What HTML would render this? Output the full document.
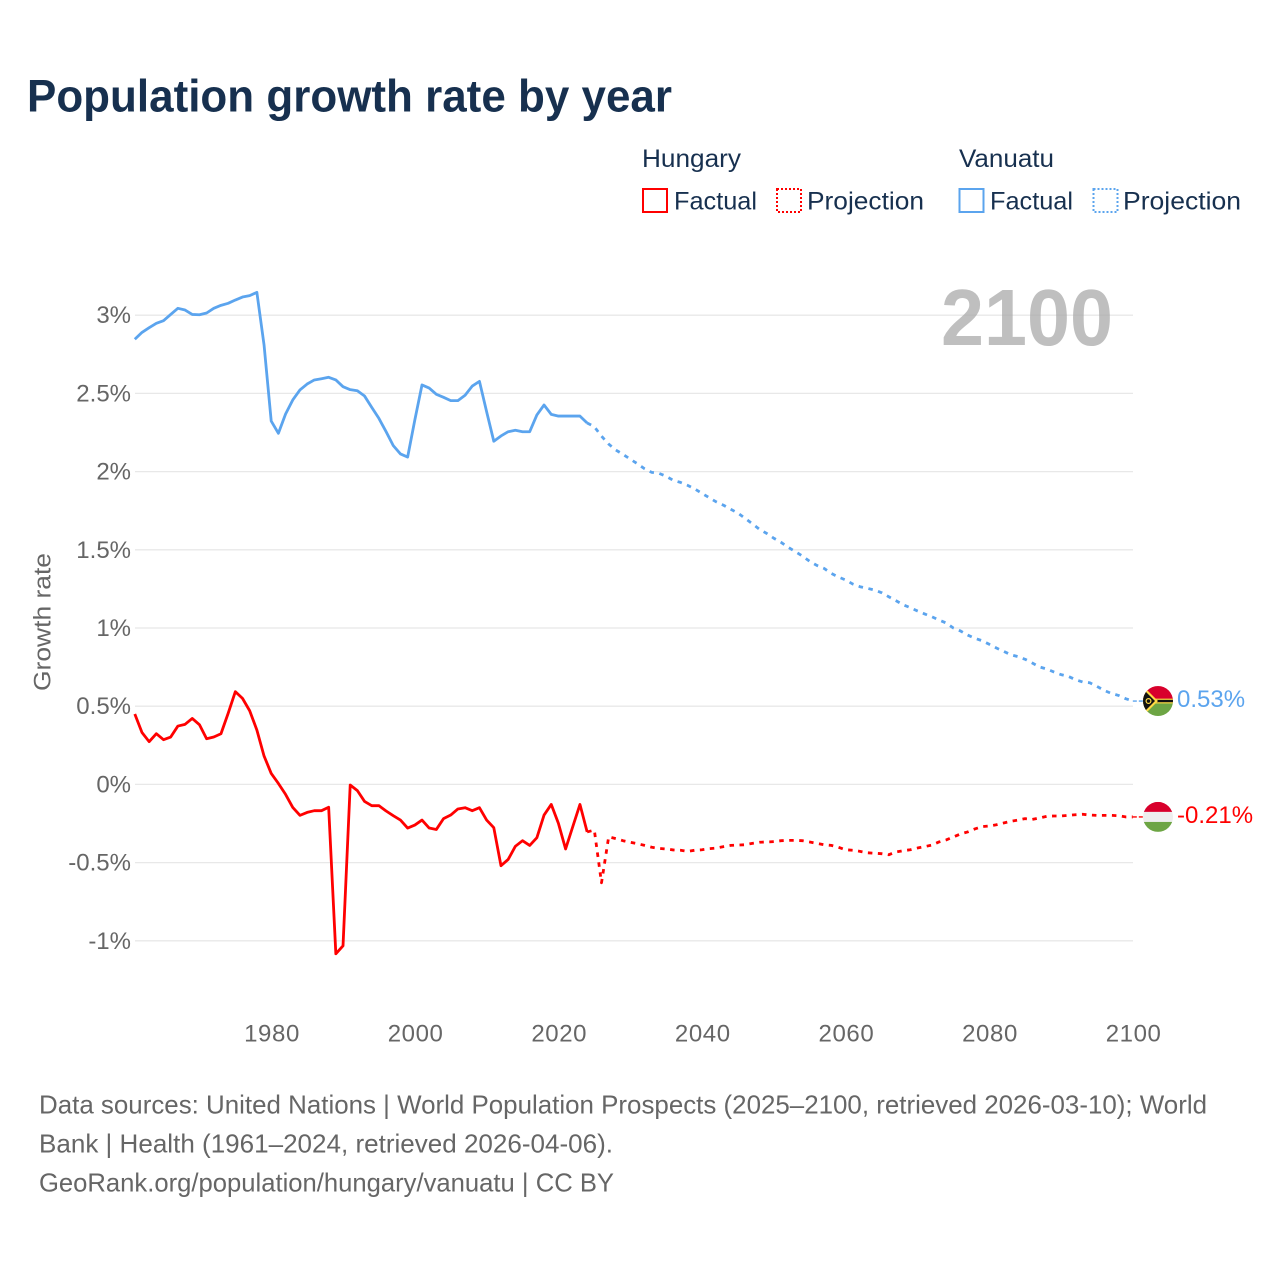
<!DOCTYPE html>
<html lang="en">
<head>
<meta charset="utf-8">
<title>Population growth rate by year</title>
<style>
html,body{margin:0;padding:0;background:#fff;}
svg{display:block;font-family:"Liberation Sans",sans-serif;}
</style>
</head>
<body>
<svg id="chart" xmlns="http://www.w3.org/2000/svg" width="1280" height="1280" viewBox="0 0 1280 1280">
  <rect x="0" y="0" width="1280" height="1280" fill="#ffffff"/>
  <text x="27" y="111.5" font-size="45" font-weight="700" fill="#17304f" textLength="645" lengthAdjust="spacingAndGlyphs">Population growth rate by year</text>

  <g>
    <text x="642" y="167" font-size="25" fill="#17304f" textLength="99" lengthAdjust="spacingAndGlyphs">Hungary</text>
    <text x="959" y="167" font-size="25" fill="#17304f" textLength="95" lengthAdjust="spacingAndGlyphs">Vanuatu</text>
    <rect x="643" y="189" width="24" height="23" fill="none" stroke="#ff0000" stroke-width="2"/>
    <text x="674" y="209.5" font-size="25" fill="#17304f" textLength="83" lengthAdjust="spacingAndGlyphs">Factual</text>
    <rect x="777" y="189" width="24" height="23" fill="none" stroke="#ff0000" stroke-width="2" stroke-dasharray="2 2"/>
    <text x="807" y="209.5" font-size="25" fill="#17304f" textLength="117" lengthAdjust="spacingAndGlyphs">Projection</text>
    <rect x="959.5" y="189" width="24" height="23" fill="none" stroke="#5ba4ee" stroke-width="2"/>
    <text x="990" y="209.5" font-size="25" fill="#17304f" textLength="83" lengthAdjust="spacingAndGlyphs">Factual</text>
    <rect x="1093.5" y="189" width="24" height="23" fill="none" stroke="#5ba4ee" stroke-width="2" stroke-dasharray="2 2"/>
    <text x="1123" y="209.5" font-size="25" fill="#17304f" textLength="118" lengthAdjust="spacingAndGlyphs">Projection</text>
  </g>

  <text transform="translate(50.5,622) rotate(-90)" text-anchor="middle" font-size="24" fill="#666666" textLength="138" lengthAdjust="spacingAndGlyphs">Growth rate</text>
  <g id="grid"></g>
  <text x="941" y="345" font-size="80" font-weight="700" fill="#a6a6a6" fill-opacity="0.72" textLength="172" lengthAdjust="spacingAndGlyphs">2100</text>
  <g id="series"></g>
  <g id="ends"></g>

  <g>
    <text x="39" y="1113.5" font-size="26" fill="#666666" textLength="1168" lengthAdjust="spacingAndGlyphs">Data sources: United Nations | World Population Prospects (2025–2100, retrieved 2026-03-10); World</text>
    <text x="39" y="1152.5" font-size="26" fill="#666666" textLength="574" lengthAdjust="spacingAndGlyphs">Bank | Health (1961–2024, retrieved 2026-04-06).</text>
    <text x="39" y="1191.5" font-size="26" fill="#666666" textLength="575" lengthAdjust="spacingAndGlyphs">GeoRank.org/population/hungary/vanuatu | CC BY</text>
  </g>

  <defs>
    <clipPath id="flag-clip"><circle cx="0" cy="0" r="15"/></clipPath>
  </defs>
</svg>

<script>
const yTickValues = [3, 2.5, 2, 1.5, 1, 0.5, 0, -0.5, -1];
const yTickLabels = ["3%", "2.5%", "2%", "1.5%", "1%", "0.5%", "0%", "-0.5%", "-1%"];
const xTickYears = [1980, 2000, 2020, 2040, 2060, 2080, 2100];
const factualStartYear = 1961;
const projectionStartYear = 2024;

const vanuatuFactual = [2.846,2.89,2.92,2.948,2.965,3.005,3.044,3.033,3.005,3.003,3.014,3.044,3.063,3.076,3.097,3.116,3.125,3.146,2.81,2.323,2.245,2.368,2.458,2.522,2.56,2.586,2.594,2.603,2.586,2.543,2.524,2.517,2.483,2.411,2.34,2.255,2.166,2.113,2.093,2.33,2.554,2.534,2.494,2.475,2.454,2.454,2.488,2.547,2.577,2.383,2.194,2.228,2.255,2.264,2.255,2.255,2.362,2.426,2.366,2.355,2.355,2.355,2.355,2.311];
const vanuatuProjection = [2.311,2.287,2.227,2.176,2.138,2.11,2.08,2.05,2.018,1.995,1.989,1.97,1.944,1.931,1.912,1.889,1.861,1.833,1.806,1.785,1.759,1.735,1.701,1.667,1.631,1.605,1.574,1.548,1.516,1.488,1.46,1.426,1.4,1.381,1.349,1.326,1.307,1.281,1.264,1.254,1.243,1.226,1.2,1.175,1.149,1.13,1.109,1.09,1.072,1.051,1.032,1.0,0.981,0.955,0.934,0.919,0.896,0.872,0.851,0.829,0.817,0.8,0.776,0.751,0.738,0.719,0.702,0.691,0.67,0.655,0.65,0.627,0.601,0.582,0.569,0.548,0.533];
const hungaryFactual = [0.45,0.332,0.273,0.324,0.286,0.303,0.373,0.384,0.422,0.382,0.292,0.303,0.324,0.454,0.593,0.55,0.471,0.348,0.182,0.07,0.006,-0.064,-0.147,-0.198,-0.179,-0.168,-0.168,-0.146,-1.083,-1.032,-0.004,-0.04,-0.109,-0.136,-0.136,-0.17,-0.2,-0.228,-0.279,-0.26,-0.228,-0.279,-0.288,-0.219,-0.196,-0.157,-0.149,-0.168,-0.149,-0.228,-0.277,-0.52,-0.48,-0.396,-0.36,-0.39,-0.341,-0.196,-0.128,-0.249,-0.413,-0.27,-0.128,-0.304];
const hungaryProjection = [-0.304,-0.292,-0.629,-0.335,-0.347,-0.36,-0.37,-0.379,-0.39,-0.402,-0.409,-0.413,-0.419,-0.421,-0.428,-0.421,-0.418,-0.411,-0.407,-0.398,-0.39,-0.388,-0.386,-0.377,-0.37,-0.368,-0.366,-0.36,-0.358,-0.358,-0.36,-0.368,-0.377,-0.386,-0.39,-0.402,-0.418,-0.421,-0.428,-0.437,-0.44,-0.443,-0.45,-0.432,-0.424,-0.418,-0.407,-0.398,-0.388,-0.368,-0.355,-0.336,-0.317,-0.304,-0.285,-0.27,-0.266,-0.258,-0.247,-0.236,-0.228,-0.219,-0.224,-0.215,-0.204,-0.202,-0.202,-0.198,-0.194,-0.191,-0.196,-0.198,-0.198,-0.198,-0.2,-0.208,-0.208];

const NS = "http://www.w3.org/2000/svg";
const RED = "#ff0000";
const BLUE = "#5ba4ee";
const xScale = function (year) { return 134.8 + (year - 1961) * 7.18; };
const yScale = function (value) { return 784.4 - value * 156.4; };

const gridGroup = document.getElementById("grid");
const seriesGroup = document.getElementById("series");
const endsGroup = document.getElementById("ends");

function pathFrom(values, startYear) {
  return values.map(function (v, i) {
    return (i ? "L" : "M") + xScale(startYear + i).toFixed(2) + " " + yScale(v).toFixed(2);
  }).join(" ");
}

yTickValues.forEach(function (v, i) {
  const line = document.createElementNS(NS, "line");
  
  
  line.setAttribute("x1", 135);
  line.setAttribute("x2", 1133);
  line.setAttribute("y1", yScale(v));
  line.setAttribute("y2", yScale(v));
  line.setAttribute("stroke", "#e8e8e8");
  line.setAttribute("stroke-width", "1.3");
  gridGroup.appendChild(line);

  const label = document.createElementNS(NS, "text");
  
  
  label.setAttribute("x", 131);
  label.setAttribute("y", yScale(v) + 8);
  label.setAttribute("text-anchor", "end");
  label.setAttribute("font-size", "24");
  label.setAttribute("fill", "#666666");
  label.textContent = yTickLabels[i];
  gridGroup.appendChild(label);
});

xTickYears.forEach(function (year) {
  const label = document.createElementNS(NS, "text");
  
  
  label.setAttribute("x", xScale(year) + 0.8);
  label.setAttribute("y", 1041.5);
  label.setAttribute("text-anchor", "middle");
  label.setAttribute("font-size", "24");
  label.setAttribute("fill", "#666666");
  label.setAttribute("letter-spacing", "0.6");
  label.textContent = String(year);
  gridGroup.appendChild(label);
});

function addProjection(values, color) {
  const path = document.createElementNS(NS, "path");
  
  
  path.setAttribute("d", pathFrom(values, projectionStartYear));
  path.setAttribute("fill", "none");
  path.setAttribute("stroke", color);
  path.setAttribute("stroke-width", "2.8");
  path.setAttribute("stroke-dasharray", "4.5 5.5");
  path.setAttribute("stroke-linejoin", "round");
  seriesGroup.appendChild(path);
}

function addFactual(values, color) {
  const path = document.createElementNS(NS, "path");
  
  
  path.setAttribute("d", pathFrom(values, factualStartYear));
  path.setAttribute("fill", "none");
  path.setAttribute("stroke", color);
  path.setAttribute("stroke-width", "2.8");
  path.setAttribute("stroke-linejoin", "round");
  seriesGroup.appendChild(path);
}

addProjection(vanuatuProjection, BLUE);
addProjection(hungaryProjection, RED);
addFactual(vanuatuFactual, BLUE);
addFactual(hungaryFactual, RED);

function addShape(parent, tag, attrs) {
  const el = document.createElementNS(NS, tag);
  Object.keys(attrs).forEach(function (k) { el.setAttribute(k, attrs[k]); });
  parent.appendChild(el);
  return el;
}

function addEnd(values, color, isVanuatu) {
  const last = values[values.length - 1];
  const y = yScale(last);

  const connector = document.createElementNS(NS, "line");
  
  
  connector.setAttribute("x1", xScale(2100));
  connector.setAttribute("x2", 1143);
  connector.setAttribute("y1", y);
  connector.setAttribute("y2", y);
  connector.setAttribute("stroke", color);
  connector.setAttribute("stroke-width", "1.3");
  connector.setAttribute("stroke-dasharray", "4 2");
  endsGroup.appendChild(connector);

  const flag = document.createElementNS(NS, "g");
  
  
  flag.setAttribute("transform", "translate(1158 " + y.toFixed(2) + ")");
  endsGroup.appendChild(flag);

  const inner = document.createElementNS(NS, "g");
  inner.setAttribute("clip-path", "url(#flag-clip)");
  flag.appendChild(inner);

  if (isVanuatu) {
    addShape(inner, "rect", { x: -15, y: -15, width: 30, height: 15, fill: "#d8002c" });
    addShape(inner, "rect", { x: -15, y: 0, width: 30, height: 15, fill: "#6da544" });
    addShape(inner, "rect", { x: -15, y: -2.4, width: 30, height: 4.8, fill: "#ffda44" });
    addShape(inner, "rect", { x: -15, y: -1.2, width: 30, height: 2.4, fill: "#111111" });
    addShape(inner, "path", { d: "M-15 -15 L0 0 L-15 15 Z", fill: "#ffda44" });
    addShape(inner, "path", { d: "M-15 -12 L-3 0 L-15 12 Z", fill: "#111111" });
    addShape(inner, "circle", { cx: -9.5, cy: 0, r: 2.4, fill: "none", stroke: "#ffda44", "stroke-width": "1.2" });
  } else {
    addShape(inner, "rect", { x: -15, y: -15, width: 30, height: 10, fill: "#d8002c" });
    addShape(inner, "rect", { x: -15, y: -5, width: 30, height: 10, fill: "#eeeeee" });
    addShape(inner, "rect", { x: -15, y: 5, width: 30, height: 10, fill: "#6da544" });
  }

  const label = document.createElementNS(NS, "text");
  
  
  label.setAttribute("x", 1177);
  label.setAttribute("y", y + 6);
  label.setAttribute("font-size", "24");
  label.setAttribute("fill", color);
  label.textContent = last.toFixed(2) + "%";
  endsGroup.appendChild(label);
}

addEnd(vanuatuProjection, BLUE, true);
addEnd(hungaryProjection, RED, false);
</script>
</body>
</html>
